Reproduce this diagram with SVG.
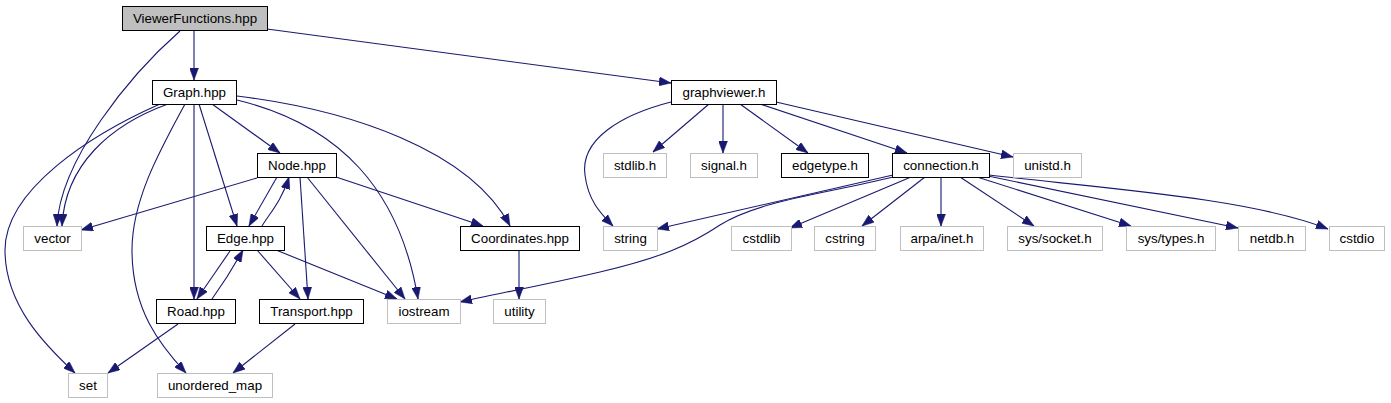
<svg xmlns="http://www.w3.org/2000/svg" width="1391" height="403" viewBox="0 0 1391 403">
<style>
.n rect{fill:#fff;stroke:#000;stroke-width:1}
.n.g rect{stroke:#bfbfbf}
.n.root rect{fill:#bfbfbf}
.n text{font-family:"Liberation Sans",Arial,sans-serif;font-size:13.33px;text-anchor:middle;fill:#000}
#edges path{fill:none;stroke:#191970;stroke-width:1.1;marker-end:url(#ah)}
</style>
<defs>
<marker id="ah" viewBox="0 0 12 9" refX="12" refY="4.5" markerWidth="12" markerHeight="9" markerUnits="userSpaceOnUse" orient="auto">
<path d="M0,0 L12,4.5 L0,9 z" fill="#191970" stroke="#191970" stroke-width="0.5"/>
</marker>
</defs>
<rect width="1391" height="403" fill="#fff"/>
<g id="edges">
<path d="M194,30 L194,80"/>
<path d="M180,31 C130,75 60,160 57,226"/>
<path d="M267,29 L671,83"/>
<path d="M168,104 C110,125 65,165 62,226"/>
<path d="M160,104 C90,135 5,190 5,250 C5,305 45,345 75,373"/>
<path d="M185,104 C160,150 132,200 132,250 C132,310 160,345 186,373"/>
<path d="M194,104 L194,299"/>
<path d="M199,104 L237,226"/>
<path d="M212,104 L280,153"/>
<path d="M237,100 C340,125 400,190 418,299"/>
<path d="M237,96 C350,110 470,150 510,226"/>
<path d="M257,178 L81,230"/>
<path d="M277,177 L249,226"/>
<path d="M262,226 C270,213 282,200 289,177"/>
<path d="M300,177 L308,299"/>
<path d="M307,177 L405,299"/>
<path d="M336,177 L483,226"/>
<path d="M230,251 L197,299"/>
<path d="M212,299 C222,285 233,268 243,250"/>
<path d="M257,250 L300,299"/>
<path d="M276,250 L397,299"/>
<path d="M178,324 L108,373"/>
<path d="M295,324 L233,373"/>
<path d="M519,250 L519,299"/>
<path d="M671,102 C620,115 580,140 585,175 C588,200 600,213 613,226"/>
<path d="M709,104 L653,152"/>
<path d="M723,104 L723,153"/>
<path d="M740,104 L808,153"/>
<path d="M760,104 L907,153"/>
<path d="M776,102 L1013,157"/>
<path d="M893,175 L657,229"/>
<path d="M893,177 C830,193 760,200 720,225 C690,245 660,258 600,272 C540,286 490,295 460,302"/>
<path d="M911,177 L790,228"/>
<path d="M925,177 L862,226"/>
<path d="M941,177 L941,226"/>
<path d="M960,177 L1034,226"/>
<path d="M977,177 L1131,226"/>
<path d="M988,176 L1238,228"/>
<path d="M989,175 C1100,188 1250,198 1328,229"/>
</g>
<g id="n_viewer" class="n root"><rect x="122.5" y="6.5" width="145" height="24"/><text x="195" y="23">ViewerFunctions.hpp</text></g>
<g id="n_graph" class="n"><rect x="152.5" y="80.5" width="84" height="24"/><text x="194.5" y="97">Graph.hpp</text></g>
<g id="n_graphviewer" class="n"><rect x="671.5" y="80.5" width="105" height="24"/><text x="724" y="97">graphviewer.h</text></g>
<g id="n_node" class="n"><rect x="257.5" y="153.5" width="79" height="24"/><text x="297" y="170">Node.hpp</text></g>
<g id="n_stdlib" class="n g"><rect x="603.5" y="153.5" width="63" height="24"/><text x="635" y="170">stdlib.h</text></g>
<g id="n_signal" class="n g"><rect x="690.5" y="153.5" width="67" height="24"/><text x="724" y="170">signal.h</text></g>
<g id="n_edgetype" class="n"><rect x="781.5" y="153.5" width="87" height="24"/><text x="825" y="170">edgetype.h</text></g>
<g id="n_connection" class="n"><rect x="892.5" y="153.5" width="97" height="24"/><text x="941" y="170">connection.h</text></g>
<g id="n_unistd" class="n g"><rect x="1013.5" y="153.5" width="68" height="24"/><text x="1047.5" y="170">unistd.h</text></g>
<g id="n_vector" class="n g"><rect x="23.5" y="226.5" width="58" height="24"/><text x="52.5" y="243">vector</text></g>
<g id="n_edge" class="n"><rect x="206.5" y="226.5" width="78" height="24"/><text x="245.5" y="243">Edge.hpp</text></g>
<g id="n_coordinates" class="n"><rect x="460.5" y="226.5" width="119" height="24"/><text x="520" y="243">Coordinates.hpp</text></g>
<g id="n_string" class="n g"><rect x="603.5" y="226.5" width="54" height="24"/><text x="630.5" y="243">string</text></g>
<g id="n_cstdlib" class="n g"><rect x="731.5" y="226.5" width="60" height="24"/><text x="761.5" y="243">cstdlib</text></g>
<g id="n_cstring" class="n g"><rect x="814.5" y="226.5" width="61" height="24"/><text x="845" y="243">cstring</text></g>
<g id="n_arpa" class="n g"><rect x="900.5" y="226.5" width="83" height="24"/><text x="942" y="243">arpa/inet.h</text></g>
<g id="n_socket" class="n g"><rect x="1007.5" y="226.5" width="95" height="24"/><text x="1055" y="243">sys/socket.h</text></g>
<g id="n_types" class="n g"><rect x="1126.5" y="226.5" width="89" height="24"/><text x="1171" y="243">sys/types.h</text></g>
<g id="n_netdb" class="n g"><rect x="1238.5" y="226.5" width="67" height="24"/><text x="1272" y="243">netdb.h</text></g>
<g id="n_cstdio" class="n g"><rect x="1329.5" y="226.5" width="55" height="24"/><text x="1357" y="243">cstdio</text></g>
<g id="n_road" class="n"><rect x="156.5" y="299.5" width="79" height="24"/><text x="196" y="316">Road.hpp</text></g>
<g id="n_transport" class="n"><rect x="259.5" y="299.5" width="104" height="24"/><text x="311.5" y="316">Transport.hpp</text></g>
<g id="n_iostream" class="n g"><rect x="387.5" y="299.5" width="73" height="24"/><text x="424" y="316">iostream</text></g>
<g id="n_utility" class="n g"><rect x="493.5" y="299.5" width="52" height="24"/><text x="519.5" y="316">utility</text></g>
<g id="n_set" class="n g"><rect x="68.5" y="373.5" width="39" height="24"/><text x="88" y="390">set</text></g>
<g id="n_umap" class="n g"><rect x="157.5" y="373.5" width="115" height="24"/><text x="215" y="390">unordered_map</text></g>
</svg>
